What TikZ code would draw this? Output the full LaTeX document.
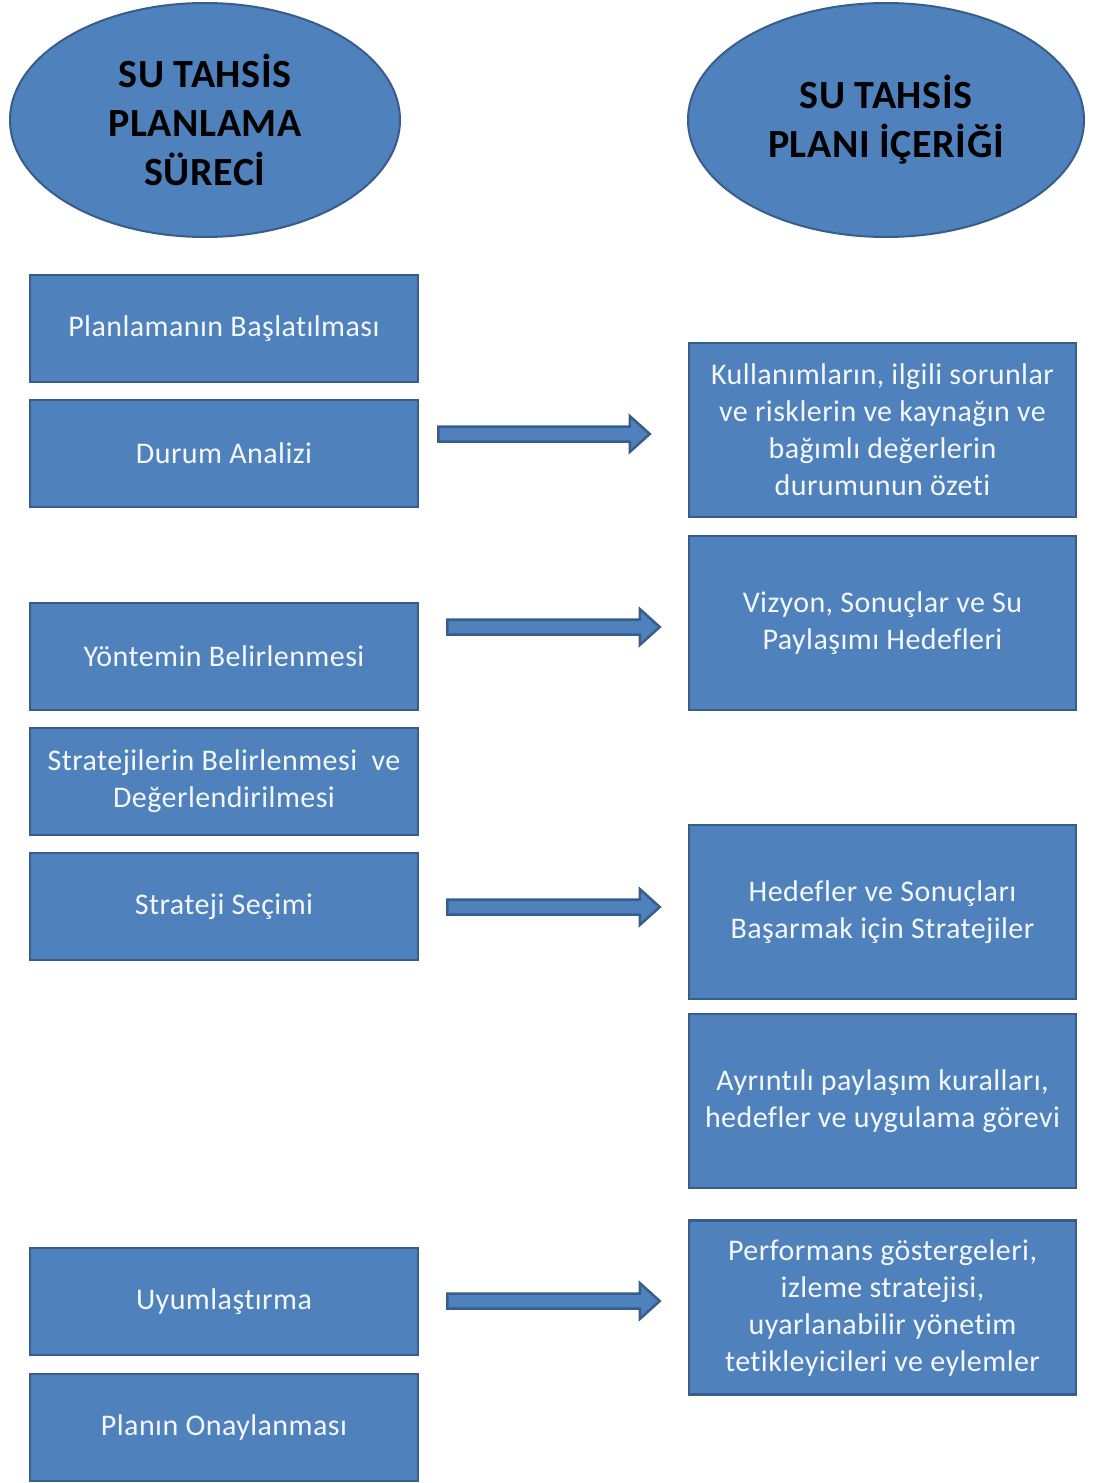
\documentclass[tikz,border=0pt]{standalone}
\usepackage{fontspec}
\setmainfont{Carlito}[Ligatures=NoCommon, LetterSpace=1.5]
\usetikzlibrary{calc,shapes.geometric}
\definecolor{boxfill}{HTML}{4F81BD}
\definecolor{boxline}{HTML}{385D8A}
\definecolor{boxtext}{HTML}{F4F7FB}
\tikzset{
  head/.style={ellipse, fill=boxfill, draw=boxline, line width=2pt,
    minimum width=390pt, minimum height=234pt, inner sep=0pt, align=center,
    font=\fontsize{40}{49}\selectfont\bfseries, text=black},
  stepbox/.style={rectangle, fill=boxfill, draw=boxline, line width=2.5pt,
    minimum width=388pt, minimum height=107pt, inner sep=0pt, align=center,
    font=\fontsize{30}{37}\selectfont, text=boxtext},
  contentbox/.style={stepbox, minimum width=387pt, minimum height=174pt},
  blockarrow/.style={fill=boxfill, draw=boxline, line width=2.5pt, line join=miter}
}
% block arrow from #1 to #2 (both named coordinates on the same height)
\newcommand{\blockarr}[2]{%
  \path let \p1=(#1), \p2=(#2) in
    [blockarrow] (\x1,\y1+7.5pt) -- (\x2-20pt,\y1+7.5pt) -- (\x2-20pt,\y1+18pt)
    -- (\x2,\y1) -- (\x2-20pt,\y1-18pt) -- (\x2-20pt,\y1-7.5pt)
    -- (\x1,\y1-7.5pt) -- cycle;}
\begin{document}
\begin{tikzpicture}[x=1pt,y=1pt]
\useasboundingbox (0,0) rectangle (1093,-1483);
% headings
\node[head] (hl) at (205,-120) {SU TAHSİS\\PLANLAMA\\SÜRECİ};
\node[head, minimum width=396pt] (hr) at (886,-120) {SU TAHSİS\\PLANI İÇERİĞİ};
% planning process steps
\node[stepbox] (s1) at (224,-328.5) {Planlamanın Başlatılması};
\node[stepbox] (s2) at (224,-453.5) {Durum Analizi};
\node[stepbox] (s3) at (224,-656.5) {Yöntemin Belirlenmesi};
\node[stepbox] (s4) at (224,-781.5) {Stratejilerin Belirlenmesi~ ve\\Değerlendirilmesi};
\node[stepbox] (s5) at (224,-906.5) {Strateji Seçimi};
\node[stepbox] (s6) at (224,-1301.5) {Uyumlaştırma};
\node[stepbox] (s7) at (224,-1427.5) {Planın Onaylanması};
% plan contents
\node[contentbox] (c1) at (882.5,-430) {Kullanımların, ilgili sorunlar\\ve risklerin ve kaynağın ve\\bağımlı değerlerin\\durumunun özeti};
\node[contentbox] (c2) at (882.5,-623) {Vizyon, Sonuçlar ve Su\\Paylaşımı Hedefleri};
\node[contentbox] (c3) at (882.5,-912) {Hedefler ve Sonuçları\\Başarmak için Stratejiler};
\node[contentbox] (c4) at (882.5,-1101) {Ayrıntılı paylaşım kuralları,\\hedefler ve uygulama görevi};
\node[contentbox] (c5) at (882.5,-1307.5) {Performans göstergeleri,\\izleme stratejisi,\\uyarlanabilir yönetim\\tetikleyicileri ve eylemler};
% arrow end points
\coordinate (a1s) at ($(s2.east |- 0,-434)+(19,0)$);
\coordinate (a1e) at ($(c1.west |- 0,-434)+(-38,0)$);
\coordinate (a2s) at ($(s3.east |- 0,-627)+(28,0)$);
\coordinate (a2e) at ($(c2.west |- 0,-627)+(-28,0)$);
\coordinate (a3s) at ($(s5.east |- 0,-907)+(28,0)$);
\coordinate (a3e) at ($(c3.west |- 0,-907)+(-28,0)$);
\coordinate (a4s) at ($(s6.east |- 0,-1301)+(28,0)$);
\coordinate (a4e) at ($(c5.west |- 0,-1301)+(-28,0)$);
\blockarr{a1s}{a1e}
\blockarr{a2s}{a2e}
\blockarr{a3s}{a3e}
\blockarr{a4s}{a4e}
\end{tikzpicture}
\end{document}
